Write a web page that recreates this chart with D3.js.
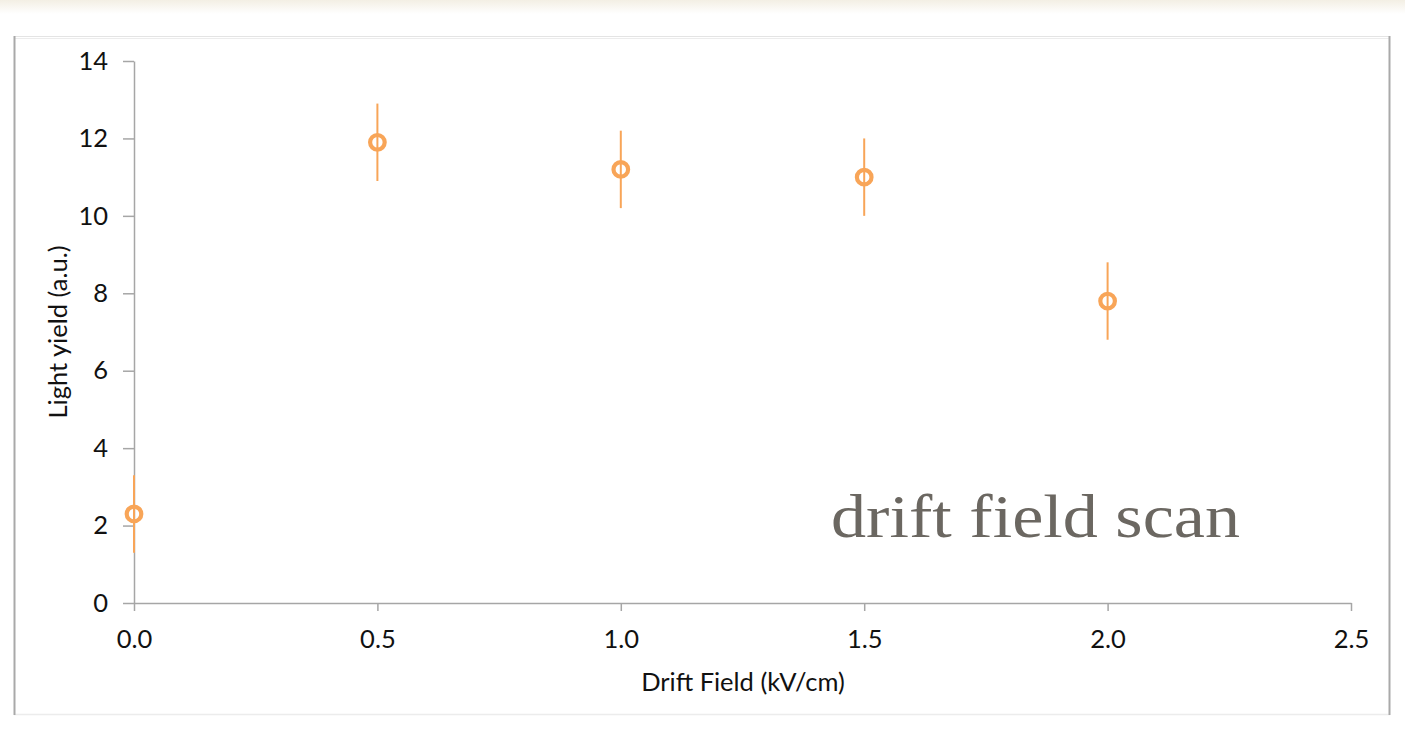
<!DOCTYPE html>
<html>
<head>
<meta charset="utf-8">
<script src="https://cdn.jsdelivr.net/npm/d3@7"></script>
<style>
  html, body { margin: 0; padding: 0; background: #fff; }
  svg { display: block; }
</style>
</head>
<body>
<svg id="chart" width="1405" height="742"></svg>
<script>
// Drift field scan: light yield vs. drift field
const fieldValues = [0.0, 0.5, 1.0, 1.5, 2.0];
const lightYield = [2.3, 11.9, 11.2, 11.0, 7.8];
const yieldError = [1.0, 1.0, 1.0, 1.0, 1.0];
const xTicks = [0.0, 0.5, 1.0, 1.5, 2.0, 2.5];
const yTicks = [0, 2, 4, 6, 8, 10, 12, 14];

const svg = d3.select("#chart");
const W = 1405, H = 742;

// faint warm band along the top edge
const defs = svg.append("defs");
const grad = defs.append("linearGradient").attr("id", "topBand")
  .attr("x1", 0).attr("y1", 0).attr("x2", 0).attr("y2", 1);
grad.append("stop").attr("offset", 0).attr("stop-color", "#f3efe4");
grad.append("stop").attr("offset", 1).attr("stop-color", "#ffffff");
svg.append("rect").attr("x", 0).attr("y", 0).attr("width", W).attr("height", 14)
  .attr("fill", "url(#topBand)");

// chart frame
svg.append("line").attr("x1", 14).attr("x2", 1390).attr("y1", 36.5).attr("y2", 36.5)
  .attr("stroke", "#e4e4e4").attr("stroke-width", 1);
svg.append("line").attr("x1", 14).attr("x2", 1390).attr("y1", 38.5).attr("y2", 38.5)
  .attr("stroke", "#ececec").attr("stroke-width", 1);
svg.append("line").attr("x1", 14).attr("x2", 1390).attr("y1", 714.5).attr("y2", 714.5)
  .attr("stroke", "#ececec").attr("stroke-width", 1.5);
svg.append("line").attr("x1", 14.5).attr("x2", 14.5).attr("y1", 36).attr("y2", 715)
  .attr("stroke", "#a9a9a9").attr("stroke-width", 2);
svg.append("line").attr("x1", 1389.5).attr("x2", 1389.5).attr("y1", 36).attr("y2", 715)
  .attr("stroke", "#a9a9a9").attr("stroke-width", 2);

const x = d3.scaleLinear().domain([0, 2.5]).range([134, 1351]);
const y = d3.scaleLinear().domain([0, 14]).range([603, 61]);

const tickFont = "Lato, 'Liberation Sans', sans-serif";
const fontSize = 25.5;

// x axis
const xAxis = svg.append("g").attr("transform", `translate(0,${y(0)})`)
  .call(d3.axisBottom(x).tickValues(xTicks).tickFormat(d3.format(".1f"))
    .tickSize(8).tickSizeOuter(0));
xAxis.select(".domain").attr("stroke", "#a6a6a6").attr("stroke-width", 1.5);
xAxis.selectAll(".tick line").attr("stroke", "#a6a6a6").attr("stroke-width", 1.5);
xAxis.selectAll(".tick text").attr("font-family", tickFont).attr("font-size", fontSize)
  .attr("fill", "#111").attr("y", 27).attr("dy", "0.71em");

// y axis
const yAxis = svg.append("g").attr("transform", `translate(${x(0)},0)`)
  .call(d3.axisLeft(y).tickValues(yTicks).tickFormat(d3.format("d"))
    .tickSize(11).tickSizeOuter(0));
yAxis.select(".domain").attr("stroke", "#a6a6a6").attr("stroke-width", 1.5);
yAxis.selectAll(".tick line").attr("stroke", "#a6a6a6").attr("stroke-width", 1.5);
yAxis.selectAll(".tick text").attr("font-family", tickFont).attr("font-size", fontSize)
  .attr("fill", "#111").attr("x", -26);

// axis titles
svg.append("text").attr("x", 743).attr("y", 691).attr("text-anchor", "middle")
  .attr("font-family", tickFont).attr("font-size", fontSize).attr("fill", "#111")
  .text("Drift Field (kV/cm)");
svg.append("text").attr("transform", "translate(67,332) rotate(-90)")
  .attr("text-anchor", "middle")
  .attr("font-family", tickFont).attr("font-size", fontSize).attr("fill", "#111")
  .text("Light yield (a.u.)");

// data with error bars
const data = fieldValues.map((f, i) => ({ f, v: lightYield[i], e: yieldError[i] }));
const orange = "#f8a558";

svg.append("g").selectAll("line").data(data).join("line")
  .attr("x1", d => x(d.f)).attr("x2", d => x(d.f))
  .attr("y1", d => y(d.v + d.e)).attr("y2", d => y(d.v - d.e))
  .attr("stroke", orange).attr("stroke-width", 2);

svg.append("g").selectAll("circle").data(data).join("circle")
  .attr("cx", d => x(d.f)).attr("cy", d => y(d.v)).attr("r", 7.3)
  .attr("fill", "none").attr("stroke", orange).attr("stroke-width", 4.2);

// annotation
svg.append("text").attr("x", 831).attr("y", 537)
  .attr("font-family", "'Liberation Serif', 'DejaVu Serif', serif")
  .attr("font-size", 62).attr("fill", "#6b6761")
  .attr("textLength", 409).attr("lengthAdjust", "spacingAndGlyphs")
  .text("drift field scan");
</script>
</body>
</html>
